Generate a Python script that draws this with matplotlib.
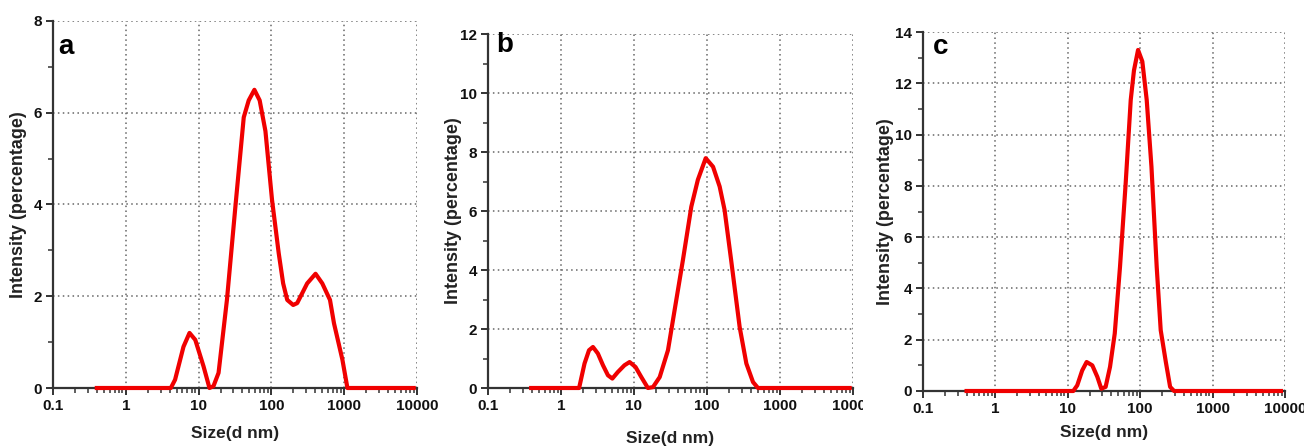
import matplotlib
matplotlib.use("Agg")
import matplotlib.pyplot as plt
from matplotlib.ticker import FixedLocator, LogLocator, NullFormatter, MultipleLocator
from matplotlib.transforms import Bbox, TransformedBbox, blended_transform_factory

plt.rcParams['font.family'] = ['Liberation Sans', 'DejaVu Sans']
plt.rcParams['font.weight'] = 'bold'

# ---- data (size in d.nm, intensity in %) ----
size_a = [0.4, 4.15, 4.75, 6.2, 7.5, 9.0, 11.7, 14.1, 16, 18.8, 24.5, 32, 41.7, 48.8, 58.4,
          69, 82.8, 102, 126, 145, 165, 199, 226, 310, 404, 500, 638, 724, 944, 1107, 9000]
int_a = [0, 0, 0.18, 0.9, 1.2, 1.05, 0.47, 0.0, 0.04, 0.33, 1.92, 3.95, 5.9, 6.27, 6.5,
         6.27, 5.6, 4.1, 2.94, 2.28, 1.92, 1.81, 1.85, 2.28, 2.49, 2.28, 1.92, 1.41, 0.62, 0, 0]

size_b = [0.39, 1.77, 2.1, 2.42, 2.74, 3.2, 3.76, 4.4, 5.05, 6.0, 7.4, 8.7, 10.5, 12.6, 15.5,
          18.2, 22.5, 29.2, 36, 46.8, 61, 75, 96, 121, 149, 174, 214, 280, 346, 427, 500, 9000]
int_b = [0, 0, 0.83, 1.28, 1.39, 1.17, 0.77, 0.43, 0.32, 0.54, 0.77, 0.88, 0.71, 0.37, 0,
         0.03, 0.37, 1.28, 2.64, 4.34, 6.15, 7.06, 7.79, 7.5, 6.83, 6.04, 4.34, 2.07, 0.83, 0.2, 0, 0]

size_c = [0.4, 11.9, 13.5, 15.8, 18.2, 21.8, 25.6, 29, 33.3, 38.3, 44.5, 52.6, 63, 74, 82,
          93.4, 107, 123, 143, 169, 192, 226, 259, 294, 8800]
int_c = [0, 0, 0.22, 0.8, 1.13, 1.0, 0.55, 0.09, 0.16, 0.94, 2.24, 4.84, 8.1, 11.35, 12.5,
         13.3, 12.85, 11.35, 8.75, 4.84, 2.37, 1.13, 0.16, 0, 0]

x_ticks = [0.1, 1, 10, 100, 1000, 10000]
x_ticklabels = ['0.1', '1', '10', '100', '1000', '10000']
panel_labels = ['a', 'b', 'c']
y_maxes = [8, 12, 14]

W, H = 1304, 448
fig = plt.figure(figsize=(W / 100, H / 100), dpi=100)

# pixel boxes: left, right, top, bottom
boxes = [(53, 417, 21, 388), (488, 853, 34, 388), (923, 1285, 32, 391)]
xlabel_y = [433, 438, 432]
ylabel_x = [19, 453, 885]
letter_pos = [(58, 47), (496, 45), (933, 47)]

series = [(size_a, int_a), (size_b, int_b), (size_c, int_c)]

for i, ((l, r, t, b), (xs, ys)) in enumerate(zip(boxes, series)):
    ax = fig.add_axes([l / W, 1 - b / H, (r - l) / W, (b - t) / H])
    ax.plot(xs, ys, color='#f00000', lw=3.0, solid_joinstyle='round', zorder=3, clip_on=False)
    ax.set_xscale('log')
    ax.set_xlim(0.1, 10000)
    ax.set_ylim(0, y_maxes[i])
    ax.xaxis.set_major_locator(FixedLocator(x_ticks))
    ax.set_xticklabels(x_ticklabels)
    ax.xaxis.set_minor_locator(LogLocator(base=10, subs=range(2, 10), numticks=20))
    ax.xaxis.set_minor_formatter(NullFormatter())
    ax.yaxis.set_major_locator(MultipleLocator(2))
    ax.yaxis.set_minor_locator(MultipleLocator(1))
    for s in ['top', 'right']:
        ax.spines[s].set_visible(False)
    for s in ['left', 'bottom']:
        ax.spines[s].set_linewidth(1.6)
        ax.spines[s].set_color('#333333')
    ax.tick_params(which='major', direction='out', length=5, width=1.4, labelsize=11, pad=3, colors='#333333')
    ax.tick_params(which='minor', direction='out', length=3.5, width=1.1, colors='#333333')
    for lbl in ax.get_xticklabels() + ax.get_yticklabels():
        lbl.set_fontweight('bold')
        lbl.set_color('#111111')
    ax.grid(True, which='major', linestyle=(0, (1, 2.2)), color='#666666', linewidth=1.1)
    ax.set_ylabel('Intensity (percentage)', fontsize=13, fontweight='bold', color='#222222')
    ax.yaxis.set_label_coords(ylabel_x[i] / W, 0.5,
                              transform=blended_transform_factory(fig.transFigure, ax.transAxes))
    ax.yaxis.label.set_va('center')
    ax.set_xlabel('Size(d nm)', fontsize=12.5, fontweight='bold', color='#222222')
    ax.xaxis.set_label_coords(0.5, 1 - (xlabel_y[i] - t) / (b - t), transform=ax.transAxes)
    ax.xaxis.label.set_va('center')
    fig.text(letter_pos[i][0] / W, 1 - letter_pos[i][1] / H, panel_labels[i],
             fontsize=20, fontweight='bold', va='center', ha='left', color='black')
    if i == 1:
        clip = TransformedBbox(Bbox([[0, 0], [863 / W, 1]]), fig.transFigure)
        for lbl in ax.get_xticklabels():
            lbl.set_clip_box(clip)
            lbl.set_clip_on(True)

fig.savefig('out.png', dpi=100)
